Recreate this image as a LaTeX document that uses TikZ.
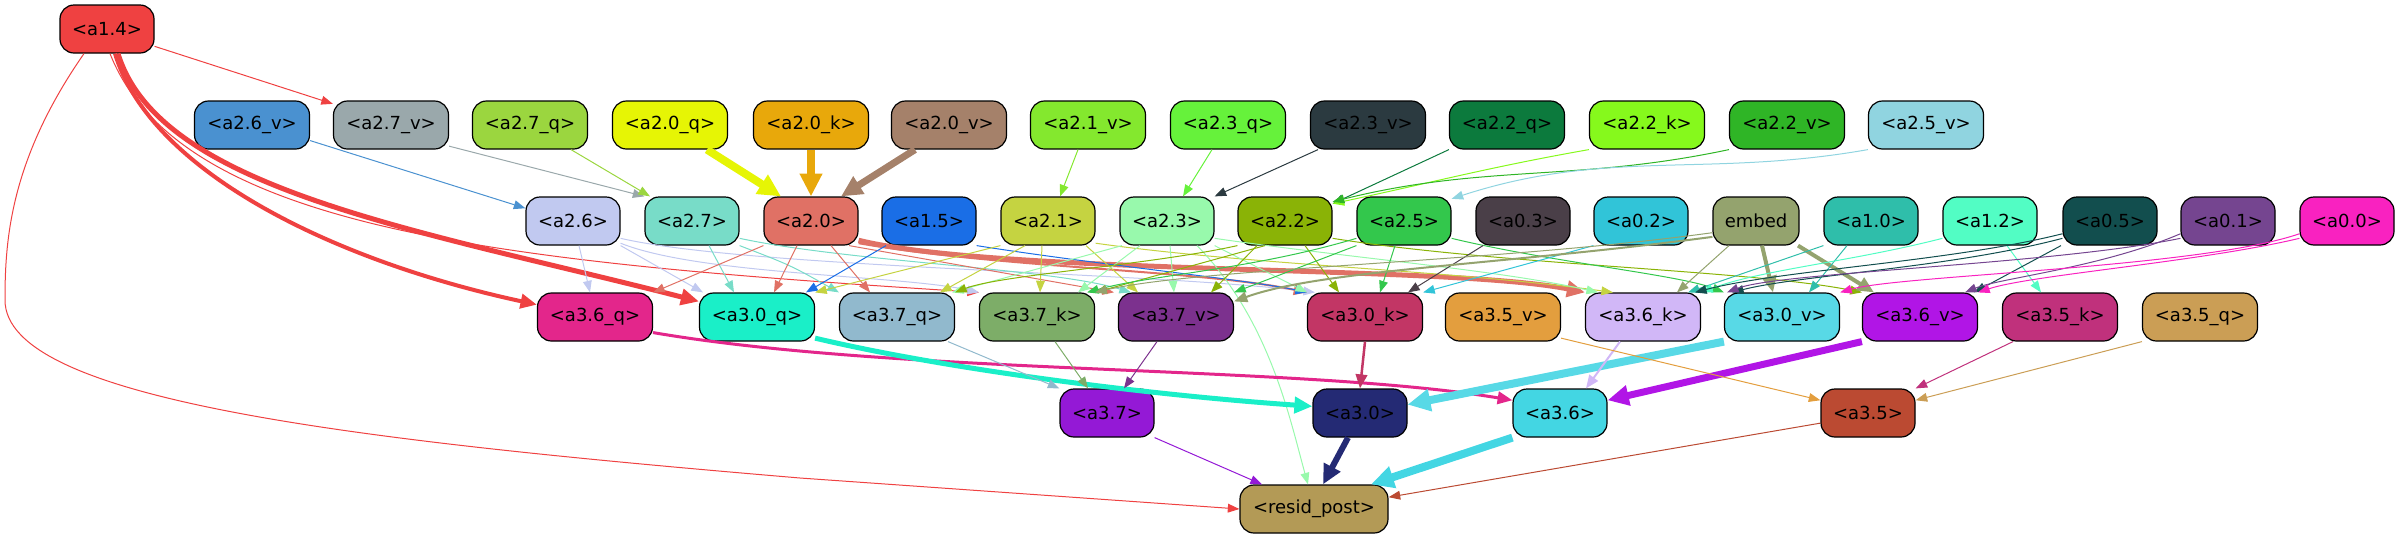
\documentclass[tikz,border=0pt]{standalone}
\usepackage{fontspec}
\newfontfamily\lblfont{DejaVu Sans}
\usetikzlibrary{arrows.meta, shapes.geometric, positioning}

% ノードの色
\definecolor{cA14}{HTML}{EF4141}
\definecolor{cA26v}{HTML}{4A91D0}
\definecolor{cA27v}{HTML}{9AA8AB}
\definecolor{cA27q}{HTML}{9BD63F}
\definecolor{cA20q}{HTML}{E6F505}
\definecolor{cA20k}{HTML}{E8A80B}
\definecolor{cA20v}{HTML}{A5816A}
\definecolor{cA21v}{HTML}{84E82E}
\definecolor{cA23q}{HTML}{66F23B}
\definecolor{cA23v}{HTML}{2B3A40}
\definecolor{cA22q}{HTML}{0C7A3D}
\definecolor{cA22k}{HTML}{86F91C}
\definecolor{cA22v}{HTML}{2FB526}
\definecolor{cA25v}{HTML}{90D4E0}
\definecolor{cA26}{HTML}{C1C9F0}
\definecolor{cA27}{HTML}{78DCC8}
\definecolor{cA20}{HTML}{E07165}
\definecolor{cA15}{HTML}{1A6EE6}
\definecolor{cA21}{HTML}{C5D341}
\definecolor{cA23}{HTML}{98F9AC}
\definecolor{cA22}{HTML}{8AB306}
\definecolor{cA25}{HTML}{33C74C}
\definecolor{cA03}{HTML}{4A3F48}
\definecolor{cA02}{HTML}{31C4D8}
\definecolor{cEmb}{HTML}{94A36E}
\definecolor{cA10}{HTML}{2FBEAA}
\definecolor{cA12}{HTML}{52FDC4}
\definecolor{cA05}{HTML}{124E4E}
\definecolor{cA01}{HTML}{754590}
\definecolor{cA00}{HTML}{F922C0}
\definecolor{cA36q}{HTML}{E3268B}
\definecolor{cA30q}{HTML}{1AEFC8}
\definecolor{cA37q}{HTML}{91B9CD}
\definecolor{cA37k}{HTML}{7DAD68}
\definecolor{cA37v}{HTML}{7C318E}
\definecolor{cA30k}{HTML}{C23665}
\definecolor{cA35v}{HTML}{E39E3E}
\definecolor{cA36k}{HTML}{D1B7F7}
\definecolor{cA30v}{HTML}{58D9E6}
\definecolor{cA36v}{HTML}{B115E6}
\definecolor{cA35k}{HTML}{C0317C}
\definecolor{cA35q}{HTML}{CB9E55}
\definecolor{cA37}{HTML}{9419D6}
\definecolor{cA30}{HTML}{242A74}
\definecolor{cA36}{HTML}{43D6E3}
\definecolor{cA35}{HTML}{BB4A32}
\definecolor{cRes}{HTML}{B39A56}

\begin{document}
\begin{tikzpicture}[x=1pt, y=1pt,
    box/.style={draw=black, line width=1.2pt, rounded corners=14pt, minimum height=48pt,
        minimum width=94pt, inner sep=0pt, font=\lblfont\fontsize{18}{21}\selectfont},
    wbox/.style={box, minimum width=115pt},
    edge/.style={-{Triangle[length=10pt 1.6, width=7pt 1.8]}, line width=1pt}]
    \useasboundingbox (0,0) rectangle (2398,-539);

    % 第0段
    \node[box, fill=cA14] (a14) at (107,-29) {<a1.4>};

    % 第1段
    \node[wbox, fill=cA26v] (a26v) at (252,-125) {<a2.6\_v>};
    \node[wbox, fill=cA27v] (a27v) at (391,-125) {<a2.7\_v>};
    \node[wbox, fill=cA27q] (a27q) at (530,-125) {<a2.7\_q>};
    \node[wbox, fill=cA20q] (a20q) at (670,-125) {<a2.0\_q>};
    \node[wbox, fill=cA20k] (a20k) at (811,-125) {<a2.0\_k>};
    \node[wbox, fill=cA20v] (a20v) at (949,-125) {<a2.0\_v>};
    \node[wbox, fill=cA21v] (a21v) at (1088,-125) {<a2.1\_v>};
    \node[wbox, fill=cA23q] (a23q) at (1228,-125) {<a2.3\_q>};
    \node[wbox, fill=cA23v] (a23v) at (1368,-125) {<a2.3\_v>};
    \node[wbox, fill=cA22q] (a22q) at (1507,-125) {<a2.2\_q>};
    \node[wbox, fill=cA22k] (a22k) at (1647,-125) {<a2.2\_k>};
    \node[wbox, fill=cA22v] (a22v) at (1787,-125) {<a2.2\_v>};
    \node[wbox, fill=cA25v] (a25v) at (1926,-125) {<a2.5\_v>};

    % 第2段
    \node[box, fill=cA26] (a26) at (573,-221) {<a2.6>};
    \node[box, fill=cA27] (a27) at (692,-221) {<a2.7>};
    \node[box, fill=cA20] (a20) at (811,-221) {<a2.0>};
    \node[box, fill=cA15] (a15) at (929,-221) {<a1.5>};
    \node[box, fill=cA21] (a21) at (1048,-221) {<a2.1>};
    \node[box, fill=cA23] (a23) at (1167,-221) {<a2.3>};
    \node[box, fill=cA22] (a22) at (1285,-221) {<a2.2>};
    \node[box, fill=cA25] (a25) at (1404,-221) {<a2.5>};
    \node[box, fill=cA03] (a03) at (1523,-221) {<a0.3>};
    \node[box, fill=cA02] (a02) at (1641,-221) {<a0.2>};
    \node[box, fill=cEmb, minimum width=86pt] (emb) at (1756,-221) {embed};
    \node[box, fill=cA10] (a10) at (1871,-221) {<a1.0>};
    \node[box, fill=cA12] (a12) at (1990,-221) {<a1.2>};
    \node[box, fill=cA05] (a05) at (2110,-221) {<a0.5>};
    \node[box, fill=cA01] (a01) at (2228,-221) {<a0.1>};
    \node[box, fill=cA00] (a00) at (2347,-221) {<a0.0>};

    % 第3段
    \node[wbox, fill=cA36q] (a36q) at (595,-317) {<a3.6\_q>};
    \node[wbox, fill=cA30q] (a30q) at (757,-317) {<a3.0\_q>};
    \node[wbox, fill=cA37q] (a37q) at (897,-317) {<a3.7\_q>};
    \node[wbox, fill=cA37k] (a37k) at (1037,-317) {<a3.7\_k>};
    \node[wbox, fill=cA37v] (a37v) at (1176,-317) {<a3.7\_v>};
    \node[wbox, fill=cA30k] (a30k) at (1365,-317) {<a3.0\_k>};
    \node[wbox, fill=cA35v] (a35v) at (1503,-317) {<a3.5\_v>};
    \node[wbox, fill=cA36k] (a36k) at (1643,-317) {<a3.6\_k>};
    \node[wbox, fill=cA30v] (a30v) at (1782,-317) {<a3.0\_v>};
    \node[wbox, fill=cA36v] (a36v) at (1920,-317) {<a3.6\_v>};
    \node[wbox, fill=cA35k] (a35k) at (2060,-317) {<a3.5\_k>};
    \node[wbox, fill=cA35q] (a35q) at (2200,-317) {<a3.5\_q>};

    % 第4段
    \node[box, fill=cA37] (a37) at (1107,-413) {<a3.7>};
    \node[box, fill=cA30] (a30) at (1360,-413) {<a3.0>};
    \node[box, fill=cA36] (a36) at (1560,-413) {<a3.6>};
    \node[box, fill=cA35] (a35) at (1868,-413) {<a3.5>};

    % 出力
    \node[box, fill=cRes, minimum width=148pt] (res) at (1314,-509) {<resid\_post>};

    % a1.4 からの矢印
    \draw[edge, draw=cA14] (a14.-20) -- (a27v.160);
    \draw[edge, draw=cA14] ([xshift=-23pt]a14.south) .. controls (10,-160) and (5,-240) .. (5,-300)
        .. controls (5,-400) and (350,-440) .. (800,-478) -- (res.west);
    \draw[edge, draw=cA14, line width=4pt] ([xshift=8pt]a14.south) .. controls (150,-170) and (330,-260) .. (a36q.168);
    \draw[edge, draw=cA14, line width=5pt] ([xshift=11pt]a14.south) .. controls (160,-190) and (420,-230) .. (a30q.165);
    \draw[edge, draw=cA14] ([xshift=3pt]a14.south) .. controls (180,-230) and (500,-262) .. (a37k.north west);

    % 第1段 -> 第2段
    \draw[edge, draw=cA26v] (a26v.-15) -- (a26.165);
    \draw[edge, draw=cA27v] (a27v.-20) -- (a27.north west);
    \draw[edge, draw=cA27q] ([xshift=41pt]a27q.south) -- ([xshift=-42pt]a27.north);
    \draw[edge, draw=cA20q, line width=8pt] ([xshift=37pt]a20q.south) -- ([xshift=-30pt]a20.north);
    \draw[edge, draw=cA20k, line width=8pt] (a20k.south) -- (a20.north);
    \draw[edge, draw=cA20v, line width=7pt] ([xshift=-34pt]a20v.south) -- ([xshift=30pt]a20.north);
    \draw[edge, draw=cA21v] ([xshift=-10pt]a21v.south) -- ([xshift=12pt]a21.north);
    \draw[edge, draw=cA23q] ([xshift=-16pt]a23q.south) -- ([xshift=16pt]a23.north);
    \draw[edge, draw=cA23v] ([xshift=-50pt]a23v.south) -- (a23.north east);
    \draw[edge, draw=cA22q] (a22q.south west) -- (a22.20);
    \draw[edge, draw=cA22k] (a22k.south west) to[out=190, in=12] (a22.20);
    \draw[edge, draw=cA22v] (a22v.south west) to[out=192, in=14] (a22.22);
    \draw[edge, draw=cA25v] (a25v.south west) to[out=190, in=18] (a25.25);

    % 第2段 -> 第3段
    \draw[edge, draw=cA26] ([xshift=6pt]a26.south) -- ([xshift=-5pt]a36q.north);
    \draw[edge, draw=cA26] (a26.south east) -- ([xshift=-54pt]a30q.north);
    \draw[edge, draw=cA26] (a26.-25) .. controls (700,-275) and (900,-275) .. (a37k.north west);
    \draw[edge, draw=cA26] (a26.-20) .. controls (750,-268) and (1150,-272) .. ([xshift=-50pt]a30k.north);
    \draw[edge, draw=cA27] ([xshift=17pt]a27.south) -- ([xshift=-23pt]a30q.north);
    \draw[edge, draw=cA27] (a27.south east) .. controls (790,-265) .. (a37q.north west);
    \draw[edge, draw=cA27] (a27.-20) .. controls (850,-262) and (1050,-268) .. ([xshift=-45pt]a37v.north);
    \draw[edge, draw=cA20] (a20.south west) -- (a36q.north east);
    \draw[edge, draw=cA20] ([xshift=-14pt]a20.south) -- ([xshift=17pt]a30q.north);
    \draw[edge, draw=cA20] ([xshift=20pt]a20.south) -- ([xshift=-27pt]a37q.north);
    \draw[edge, draw=cA20] ([xshift=38pt]a20.south) -- ([xshift=-62pt]a37v.north);
    \draw[edge, draw=cA20, line width=2pt] (a20.-25) .. controls (1000,-268) and (1200,-270) .. (a30k.north west);
    \draw[edge, draw=cA20, line width=5pt] (a20.-22) .. controls (1000,-275) and (1450,-265) .. (a36k.north west);
    \draw[edge, draw=cA15] ([xshift=-43pt]a15.south) -- ([xshift=49pt]a30q.north);
    \draw[edge, draw=cA15] (a15.south east) .. controls (1100,-265) and (1250,-280) .. (a30k.north west);
    \draw[edge, draw=cA21] (a21.south west) -- (a30q.north east);
    \draw[edge, draw=cA21] ([xshift=-23pt]a21.south) -- ([xshift=43pt]a37q.north);
    \draw[edge, draw=cA21] ([xshift=-6pt]a21.south) -- ([xshift=3pt]a37k.north);
    \draw[edge, draw=cA21] ([xshift=38pt]a21.south) -- ([xshift=-38pt]a37v.north);
    \draw[edge, draw=cA21] (a21.-25) .. controls (1250,-265) and (1450,-270) .. ([xshift=-30pt]a36k.north);
    \draw[edge, draw=cA23] ([xshift=-45pt]a23.south) -- ([xshift=55pt]a37q.north);
    \draw[edge, draw=cA23] ([xshift=-27pt]a23.south) -- ([xshift=41pt]a37k.north);
    \draw[edge, draw=cA23] ([xshift=3pt]a23.south) -- ([xshift=-2pt]a37v.north);
    \draw[edge, draw=cA23] (a23.south east) -- ([xshift=-58pt]a30k.north);
    \draw[edge, draw=cA23] (a23.-20) .. controls (1350,-258) and (1500,-270) .. ([xshift=-45pt]a36k.north);
    \draw[edge, draw=cA23] ([xshift=30pt]a23.south) .. controls (1270,-320) and (1290,-420) .. ([xshift=-6pt]res.north);
    \draw[edge, draw=cA22] (a22.south west) .. controls (1150,-265) and (1000,-275) .. (a37q.north east);
    \draw[edge, draw=cA22] ([xshift=-20pt]a22.south) -- (a37k.north east);
    \draw[edge, draw=cA22] ([xshift=-28pt]a22.south) -- ([xshift=35pt]a37v.north);
    \draw[edge, draw=cA22] ([xshift=20pt]a22.south) -- ([xshift=-26pt]a30k.north);
    \draw[edge, draw=cA22] (a22.-20) .. controls (1500,-265) and (1750,-270) .. (a36v.north west);
    \draw[edge, draw=cA25] ([xshift=-9pt]a25.south) -- ([xshift=15pt]a30k.north);
    \draw[edge, draw=cA25] (a25.south west) -- (a37v.north east);
    \draw[edge, draw=cA25] (a25.-160) .. controls (1250,-270) and (1150,-275) .. ([xshift=50pt]a37k.north);
    \draw[edge, draw=cA25] (a25.-20) .. controls (1550,-262) and (1680,-275) .. (a30v.north west);
    \draw[edge, draw=cA03] ([xshift=-40pt]a03.south) -- ([xshift=43pt]a30k.north);
    \draw[edge, draw=cA02] (a02.south west) -- (a30k.north east);
    \draw[edge, draw=cEmb, line width=2pt] (emb.-160) .. controls (1500,-265) and (1320,-270) .. (a37v.15);
    \draw[edge, draw=cEmb] (emb.-165) .. controls (1500,-262) and (1200,-268) .. (a37k.north east);
    \draw[edge, draw=cEmb] ([xshift=-27pt]emb.south) -- ([xshift=34pt]a36k.north);
    \draw[edge, draw=cEmb, line width=4pt] ([xshift=6pt]emb.south) -- ([xshift=-9pt]a30v.north);
    \draw[edge, draw=cEmb, line width=4pt] ([xshift=42pt]emb.south) -- ([xshift=-46pt]a36v.north);
    \draw[edge, draw=cA10] ([xshift=-24pt]a10.south) -- ([xshift=27pt]a30v.north);
    \draw[edge, draw=cA10] (a10.south west) -- ([xshift=45pt]a36k.north);
    \draw[edge, draw=cA12] ([xshift=17pt]a12.south) -- ([xshift=-19pt]a35k.north);
    \draw[edge, draw=cA12] (a12.-160) .. controls (1850,-262) and (1760,-270) .. (a36k.north east);
    \draw[edge, draw=cA05] ([xshift=-49pt]a05.south) -- ([xshift=54pt]a36v.north);
    \draw[edge, draw=cA05] (a05.-165) .. controls (1950,-262) and (1780,-270) .. ([xshift=52pt]a36k.north);
    \draw[edge, draw=cA05] (a05.-160) .. controls (1950,-268) and (1800,-275) .. ([xshift=-50pt]a30v.north);
    \draw[edge, draw=cA01] (a01.-160) .. controls (2050,-265) and (1780,-272) .. ([xshift=-55pt]a30v.north);
    \draw[edge, draw=cA01] (a01.-165) .. controls (2100,-268) and (2000,-278) .. ([xshift=45pt]a36v.north);
    \draw[edge, draw=cA00] (a00.-160) .. controls (2200,-262) and (2030,-275) .. (a36v.north east);
    \draw[edge, draw=cA00] (a00.-165) .. controls (2200,-268) and (1900,-275) .. (a30v.north east);

    % 第3段 -> 第4段
    \draw[edge, draw=cA36q, line width=3pt] (a36q.-15) .. controls (900,-375) and (1300,-365) .. (a36.165);
    \draw[edge, draw=cA30q, line width=5pt] (a30q.-20) .. controls (950,-370) and (1150,-395) .. (a30.172);
    \draw[edge, draw=cA37q] ([xshift=51pt]a37q.south) -- (a37.north west);
    \draw[edge, draw=cA37k] ([xshift=18pt]a37k.south) -- ([xshift=-19pt]a37.north);
    \draw[edge, draw=cA37v] ([xshift=-19pt]a37v.south) -- ([xshift=17pt]a37.north);
    \draw[edge, draw=cA30k, line width=2.5pt] (a30k.south) -- (a30.north);
    \draw[edge, draw=cA30v, line width=8pt] (a30v.south west) -- (a30.10);
    \draw[edge, draw=cA36k, line width=2pt] ([xshift=-23pt]a36k.south) -- ([xshift=26pt]a36.north);
    \draw[edge, draw=cA36v, line width=7pt] (a36v.south west) -- (a36.15);
    \draw[edge, draw=cA35v] (a35v.-20) -- (a35.165);
    \draw[edge, draw=cA35k] ([xshift=-47pt]a35k.south) -- (a35.north east);
    \draw[edge, draw=cA35q] (a35q.south west) -- (a35.15);

    % 第4段 -> 出力
    \draw[edge, draw=cA37] (a37.south east) -- ([xshift=-52pt]res.north);
    \draw[edge, draw=cA30, line width=6pt] ([xshift=-12pt]a30.south) -- ([xshift=9pt]res.north);
    \draw[edge, draw=cA36, line width=8pt] (a36.south west) -- ([xshift=57pt]res.north);
    \draw[edge, draw=cA35] (a35.-168) -- (res.9);
\end{tikzpicture}
\end{document}
